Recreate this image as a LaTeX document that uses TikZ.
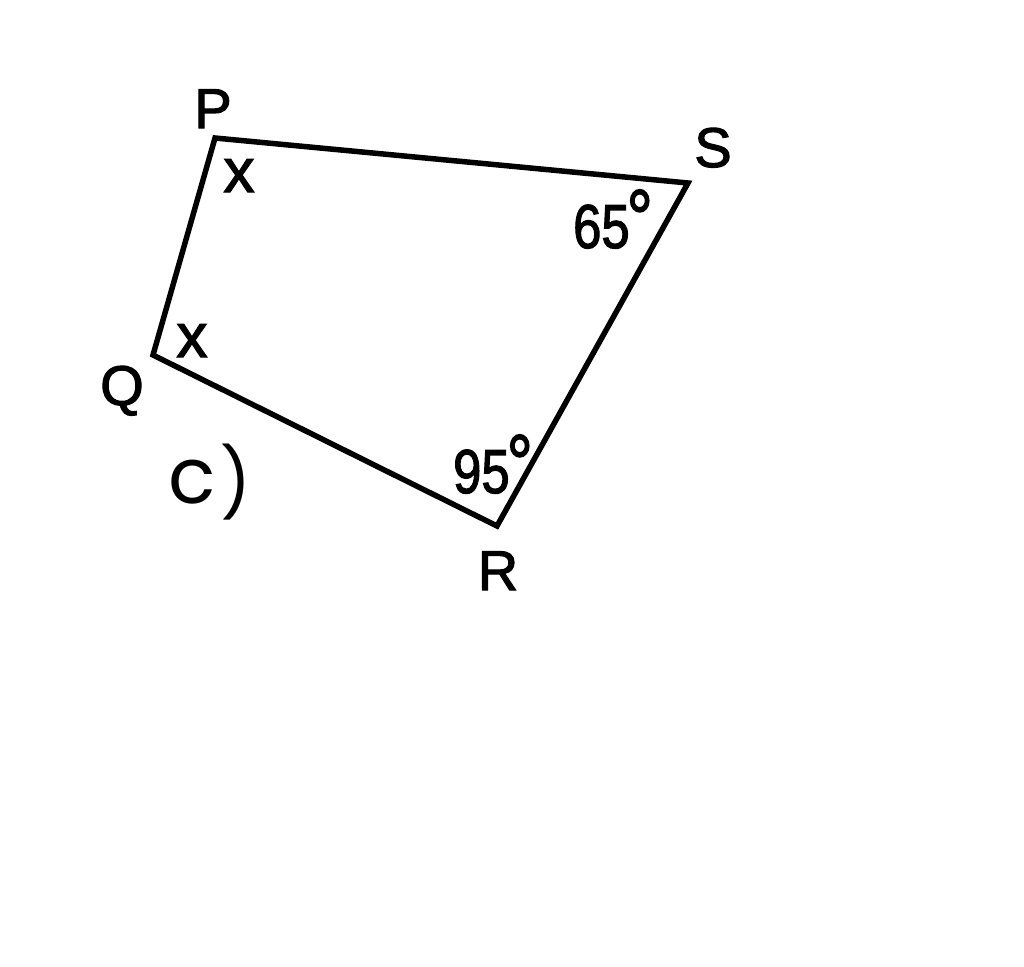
\documentclass[tikz,border=0pt]{standalone}
\usepackage{fontspec}
\setmainfont{Liberation Sans}
\newfontfamily\labfont{Liberation Sans}[FakeBold=2]
\newfontfamily\cfont{Poppins}
\begin{document}
\begin{tikzpicture}[x=1pt,y=-1pt,
  vlabel/.style={anchor=base,inner sep=0pt,font=\labfont\fontsize{56}{60}\selectfont},
  xlabel/.style={anchor=base,inner sep=0pt,font=\labfont\fontsize{62}{62}\selectfont},
  anglabel/.style={anchor=base,inner sep=0pt,font=\labfont\fontsize{62}{64}\selectfont,xscale=0.82},
  edge/.style={line width=5.5pt,line join=miter}]
\useasboundingbox (0,0) rectangle (1024,966);
\fill[white] (0,0) rectangle (1024,966);
\coordinate (P) at (215,138);
\coordinate (S) at (688,183);
\coordinate (R) at (497,526);
\coordinate (Q) at (153,355);
\draw[edge] (P) -- (S) -- (R) -- (Q) -- cycle;
\node[vlabel] (lP) at (213,128) {P};
\node[vlabel] (lS) at (713,167) {S};
\node[vlabel] (lR) at (498,590) {R};
\node[vlabel] (lQ) at (122,405) {Q};
\node[xlabel] (x1) at (239,192) {x};
\node[xlabel] (x2) at (192,357) {x};
\node[anglabel] (a65) at (613,248) {65\kern-0.06em\raisebox{0.04em}{\fontsize{80}{80}\selectfont °}};
\node[anglabel] (a95) at (493,493) {95\kern-0.06em\raisebox{0.04em}{\fontsize{80}{80}\selectfont °}};
\node[anchor=base west,inner sep=0pt,font=\cfont\fontsize{78}{80}\selectfont] (c) at (168,503) {c\kern0.06em\raisebox{-4pt}{\fontsize{68}{70}\selectfont )}};
\end{tikzpicture}
\end{document}
